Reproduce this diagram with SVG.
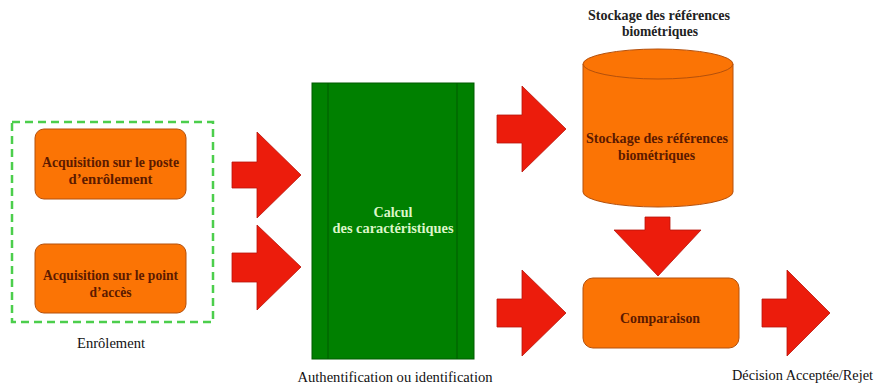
<svg xmlns="http://www.w3.org/2000/svg" width="874" height="390" viewBox="0 0 874 390" font-family="'Liberation Serif', 'DejaVu Serif', serif">
  <style>
    .box { fill: #fb7405; stroke: #b4500c; stroke-width: 1; }
    .arrow { fill: #ec1c0c; stroke: #b8140a; stroke-width: 0.8; }
    text { text-anchor: middle; }
    .lbl { font-weight: bold; font-size: 13.7px; fill: #5c1a00; }
    .cap { font-size: 14.5px; fill: #111; }
    .top { font-weight: bold; font-size: 13.7px; fill: #222; }
    .light { font-weight: bold; font-size: 14.2px; fill: #dcf6c8; }
  </style>
  <rect width="874" height="390" fill="#ffffff"/>

  <!-- enrolment group -->
  <g id="enrolement">
    <rect x="12" y="122" width="201" height="200" fill="none" stroke="#4cce4c" stroke-width="2.5" stroke-dasharray="8 5"/>
    <text class="cap" x="111" y="348" textLength="68" lengthAdjust="spacingAndGlyphs">Enrôlement</text>
  </g>

  <g id="acq-poste">
    <rect class="box" x="35" y="129" width="151" height="70" rx="9"/>
    <text class="lbl" x="110.5" y="167" textLength="137" lengthAdjust="spacingAndGlyphs">Acquisition sur le poste</text>
    <text class="lbl" x="110.5" y="184" textLength="84" lengthAdjust="spacingAndGlyphs">d’enrôlement</text>
  </g>

  <g id="acq-point">
    <rect class="box" x="35" y="244" width="151" height="69" rx="9"/>
    <text class="lbl" x="110.5" y="280" textLength="135" lengthAdjust="spacingAndGlyphs">Acquisition sur le point</text>
    <text class="lbl" x="110.5" y="297" textLength="42" lengthAdjust="spacingAndGlyphs">d’accès</text>
  </g>

  <!-- feature extraction -->
  <g id="calcul">
    <rect x="312" y="83" width="162" height="276" fill="#008000" stroke="#005a00" stroke-width="1"/>
    <line x1="328" y1="83" x2="328" y2="359" stroke="#005a00" stroke-width="1"/>
    <line x1="457" y1="83" x2="457" y2="359" stroke="#005a00" stroke-width="1"/>
    <text class="light" x="393" y="217" textLength="39" lengthAdjust="spacingAndGlyphs">Calcul</text>
    <text class="light" x="393" y="233" textLength="121" lengthAdjust="spacingAndGlyphs">des caractéristiques</text>
    <text class="cap" x="395" y="382" textLength="195" lengthAdjust="spacingAndGlyphs">Authentification ou identification</text>
  </g>

  <!-- reference storage -->
  <g id="stockage">
    <text class="top" x="659" y="20" textLength="142" lengthAdjust="spacingAndGlyphs">Stockage des  références</text>
    <text class="top" x="660" y="36" textLength="76" lengthAdjust="spacingAndGlyphs">biométriques</text>
    <path class="box" d="M583,64 L583,192 A75,15 0 0 0 733,192 L733,64"/>
    <ellipse class="box" cx="658" cy="64" rx="75" ry="15"/>
    <text class="lbl" x="657" y="143" textLength="142" lengthAdjust="spacingAndGlyphs">Stockage des  références</text>
    <text class="lbl" x="656.5" y="160" textLength="77" lengthAdjust="spacingAndGlyphs">biométriques</text>
  </g>

  <g id="comparaison">
    <rect class="box" x="583" y="278" width="156" height="70" rx="10"/>
    <text class="lbl" x="660" y="323" textLength="80" lengthAdjust="spacingAndGlyphs">Comparaison</text>
  </g>

  <g id="decision">
    <text class="cap" x="802.5" y="380" textLength="141" lengthAdjust="spacingAndGlyphs">Décision Acceptée/Rejet</text>
  </g>

  <!-- block arrows -->
  <g id="connectors">
    <polygon class="arrow" points="232,162 257,162 257,132 301,175 257,218 257,188 232,188"/>
    <polygon class="arrow" points="232,253 257,253 257,225 301,267 257,310 257,282 232,282"/>
    <polygon class="arrow" points="497,115 522,115 522,86 566,129 522,172 522,143 497,143"/>
    <polygon class="arrow" points="497,299 522,299 522,270 566,313 522,356 522,327 497,327"/>
    <polygon class="arrow" points="762,299 787,299 787,270 830,313 787,356 787,327 762,327"/>
    <polygon class="arrow" points="645,217 670,217 670,230 701,230 658,276 614,230 645,230"/>
  </g>
</svg>
